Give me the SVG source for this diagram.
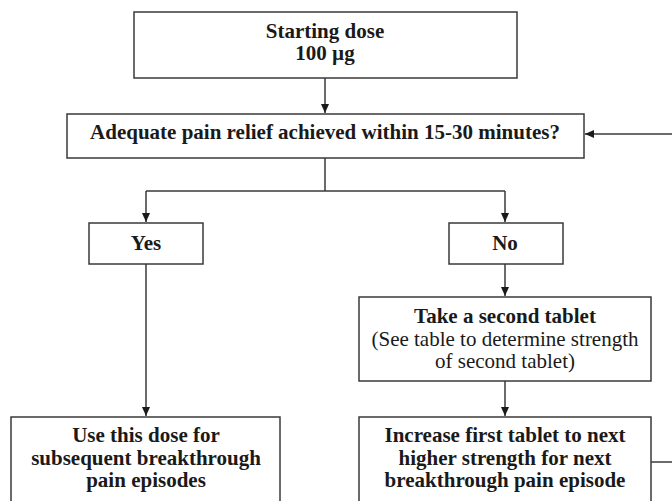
<svg xmlns="http://www.w3.org/2000/svg" width="672" height="501" viewBox="0 0 672 501">
<defs>
<marker id="ah" markerWidth="10" markerHeight="10" refX="9" refY="5" orient="auto" markerUnits="userSpaceOnUse">
<path d="M0,1 L9,5 L0,9 Z" fill="#1a1a1a"/>
</marker>
</defs>
<rect width="672" height="501" fill="#fff"/>
<g id="connectors" fill="none" stroke="#3a3a3a" stroke-width="1.5">
<path d="M325,78 V113" marker-end="url(#ah)"/>
<path d="M325,158 V191 M146,191 H505"/>
<path d="M146,191 V222" marker-end="url(#ah)"/>
<path d="M505,191 V222" marker-end="url(#ah)"/>
<path d="M146,264 V416" marker-end="url(#ah)"/>
<path d="M505,264 V296" marker-end="url(#ah)"/>
<path d="M505,381 V416" marker-end="url(#ah)"/>
<path d="M651,462 H672"/>
<path d="M672,134 H585" marker-end="url(#ah)"/>
</g>
<g id="nodes" font-size="21" font-weight="bold" text-anchor="middle">
<g id="start">
<rect x="134" y="12" width="383" height="66" fill="#fff" stroke="#3a3a3a" stroke-width="1.5"/>
<text font-family="Liberation Serif" style="font-family:'Liberation Serif' !important" fill="#1a1a1a" x="325" y="38">Starting dose</text>
<text font-family="Liberation Serif" style="font-family:'Liberation Serif' !important" fill="#1a1a1a" x="325" y="60">100 µg</text>
</g>
<g id="decision">
<rect x="67" y="114" width="517" height="44" fill="#fff" stroke="#3a3a3a" stroke-width="1.5"/>
<text font-family="Liberation Serif" style="font-family:'Liberation Serif' !important" fill="#1a1a1a" x="325" y="139">Adequate pain relief achieved within 15-30 minutes?</text>
</g>
<g id="yes">
<rect x="89" y="223" width="114" height="41" fill="#fff" stroke="#3a3a3a" stroke-width="1.5"/>
<text font-family="Liberation Serif" style="font-family:'Liberation Serif' !important" fill="#1a1a1a" x="146" y="250">Yes</text>
</g>
<g id="no">
<rect x="449" y="223" width="114" height="41" fill="#fff" stroke="#3a3a3a" stroke-width="1.5"/>
<text font-family="Liberation Serif" style="font-family:'Liberation Serif' !important" fill="#1a1a1a" x="505" y="250">No</text>
</g>
<g id="second">
<rect x="359" y="297" width="292" height="84" fill="#fff" stroke="#3a3a3a" stroke-width="1.5"/>
<text font-family="Liberation Serif" style="font-family:'Liberation Serif' !important" fill="#1a1a1a" x="505" y="323">Take a second tablet</text>
<text font-family="Liberation Serif" style="font-family:'Liberation Serif' !important" fill="#1a1a1a" font-weight="normal" x="505" y="346">(See table to determine strength</text>
<text font-family="Liberation Serif" style="font-family:'Liberation Serif' !important" fill="#1a1a1a" font-weight="normal" x="505" y="368">of second tablet)</text>
</g>
<g id="use">
<rect x="11" y="417" width="269" height="95" fill="#fff" stroke="#3a3a3a" stroke-width="1.5"/>
<text font-family="Liberation Serif" style="font-family:'Liberation Serif' !important" fill="#1a1a1a" x="146" y="442">Use this dose for</text>
<text font-family="Liberation Serif" style="font-family:'Liberation Serif' !important" fill="#1a1a1a" x="146" y="465">subsequent breakthrough</text>
<text font-family="Liberation Serif" style="font-family:'Liberation Serif' !important" fill="#1a1a1a" x="146" y="487">pain episodes</text>
</g>
<g id="increase">
<rect x="359" y="417" width="292" height="95" fill="#fff" stroke="#3a3a3a" stroke-width="1.5"/>
<text font-family="Liberation Serif" style="font-family:'Liberation Serif' !important" fill="#1a1a1a" x="505" y="442">Increase first tablet to next</text>
<text font-family="Liberation Serif" style="font-family:'Liberation Serif' !important" fill="#1a1a1a" x="505" y="465">higher strength for next</text>
<text font-family="Liberation Serif" style="font-family:'Liberation Serif' !important" fill="#1a1a1a" x="505" y="487">breakthrough pain episode</text>
</g>
</g>
</svg>
